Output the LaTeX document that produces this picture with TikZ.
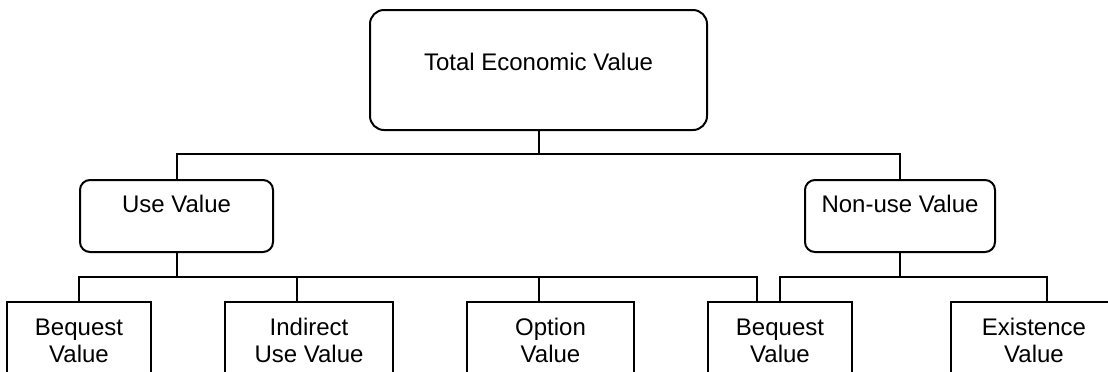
\documentclass[tikz,border=0pt]{standalone}
\usepackage{fontspec}
\setmainfont{Liberation Sans}
\usetikzlibrary{positioning}

\begin{document}
\begin{tikzpicture}[
        font=\fontsize{12}{13.5}\selectfont,
        rootbox/.style={rectangle, draw, line width=1pt, rounded corners=7pt, minimum width=168.5pt, minimum height=60pt, inner sep=0pt, text height=6pt, text depth=6pt},
        valuebox/.style={rectangle, draw, line width=1pt, rounded corners=5pt, minimum height=36pt, inner sep=0pt, text height=6pt, text depth=10pt},
        leafbox/.style={rectangle, draw, line width=1pt, align=center, inner xsep=0pt, inner ysep=8.4pt},
        conn/.style={line width=1pt}
    ]
        \useasboundingbox (0,0) rectangle (554pt,-185.5pt);
        \clip (0,0) rectangle (554pt,-185.5pt);

        \node[rootbox] (total) at (269.25pt,-35pt) {Total Economic Value};
        \node[valuebox, minimum width=96.5pt, below left=24pt and 47.5pt of total] (usev) {Use Value};
        \node[valuebox, minimum width=95pt, below right=24pt and 48pt of total] (nonusev) {Non-use Value};

        \node[leafbox, minimum width=72pt, below=24pt of usev.south west] (bequestA) {Bequest\\Value};
        \node[leafbox, minimum width=84pt, right=36pt of bequestA] (indirect) {Indirect\\Use Value};
        \node[leafbox, minimum width=83.5pt, right=36pt of indirect] (option) {Option\\Value};
        \node[leafbox, minimum width=72pt, right=36pt of option] (bequestB) {Bequest\\Value};
        \node[leafbox, minimum width=83pt, right=48.5pt of bequestB] (existence) {Existence\\Value};

        % junctions and drop points
        \coordinate[below=11.5pt of total.south] (tj);
        \coordinate[below=11.75pt of usev.south] (uj);
        \coordinate[below=11.75pt of nonusev.south] (nj);
        \coordinate (indin) at ([xshift=-6pt]indirect.north);
        \coordinate (optin) at ([xshift=-5.75pt]option.north);
        \coordinate (bqin) at ([xshift=-11.5pt]bequestB.north);
        \coordinate (exin) at ([xshift=6.5pt]existence.north);

        \draw[conn] (total.south) -- (tj);
        \draw[conn] (usev.north) |- (tj) -| (nonusev.north);
        \draw[conn] (usev.south) -- (uj);
        \draw[conn] (bequestA.north) |- (uj) -| (bqin);
        \draw[conn] (indin |- uj) -- (indin);
        \draw[conn] (optin |- uj) -- (optin);
        \draw[conn] (nonusev.south) -- (nj);
        \draw[conn] (bequestB.north) |- (nj) -| (exin);
    \end{tikzpicture}
\end{document}
